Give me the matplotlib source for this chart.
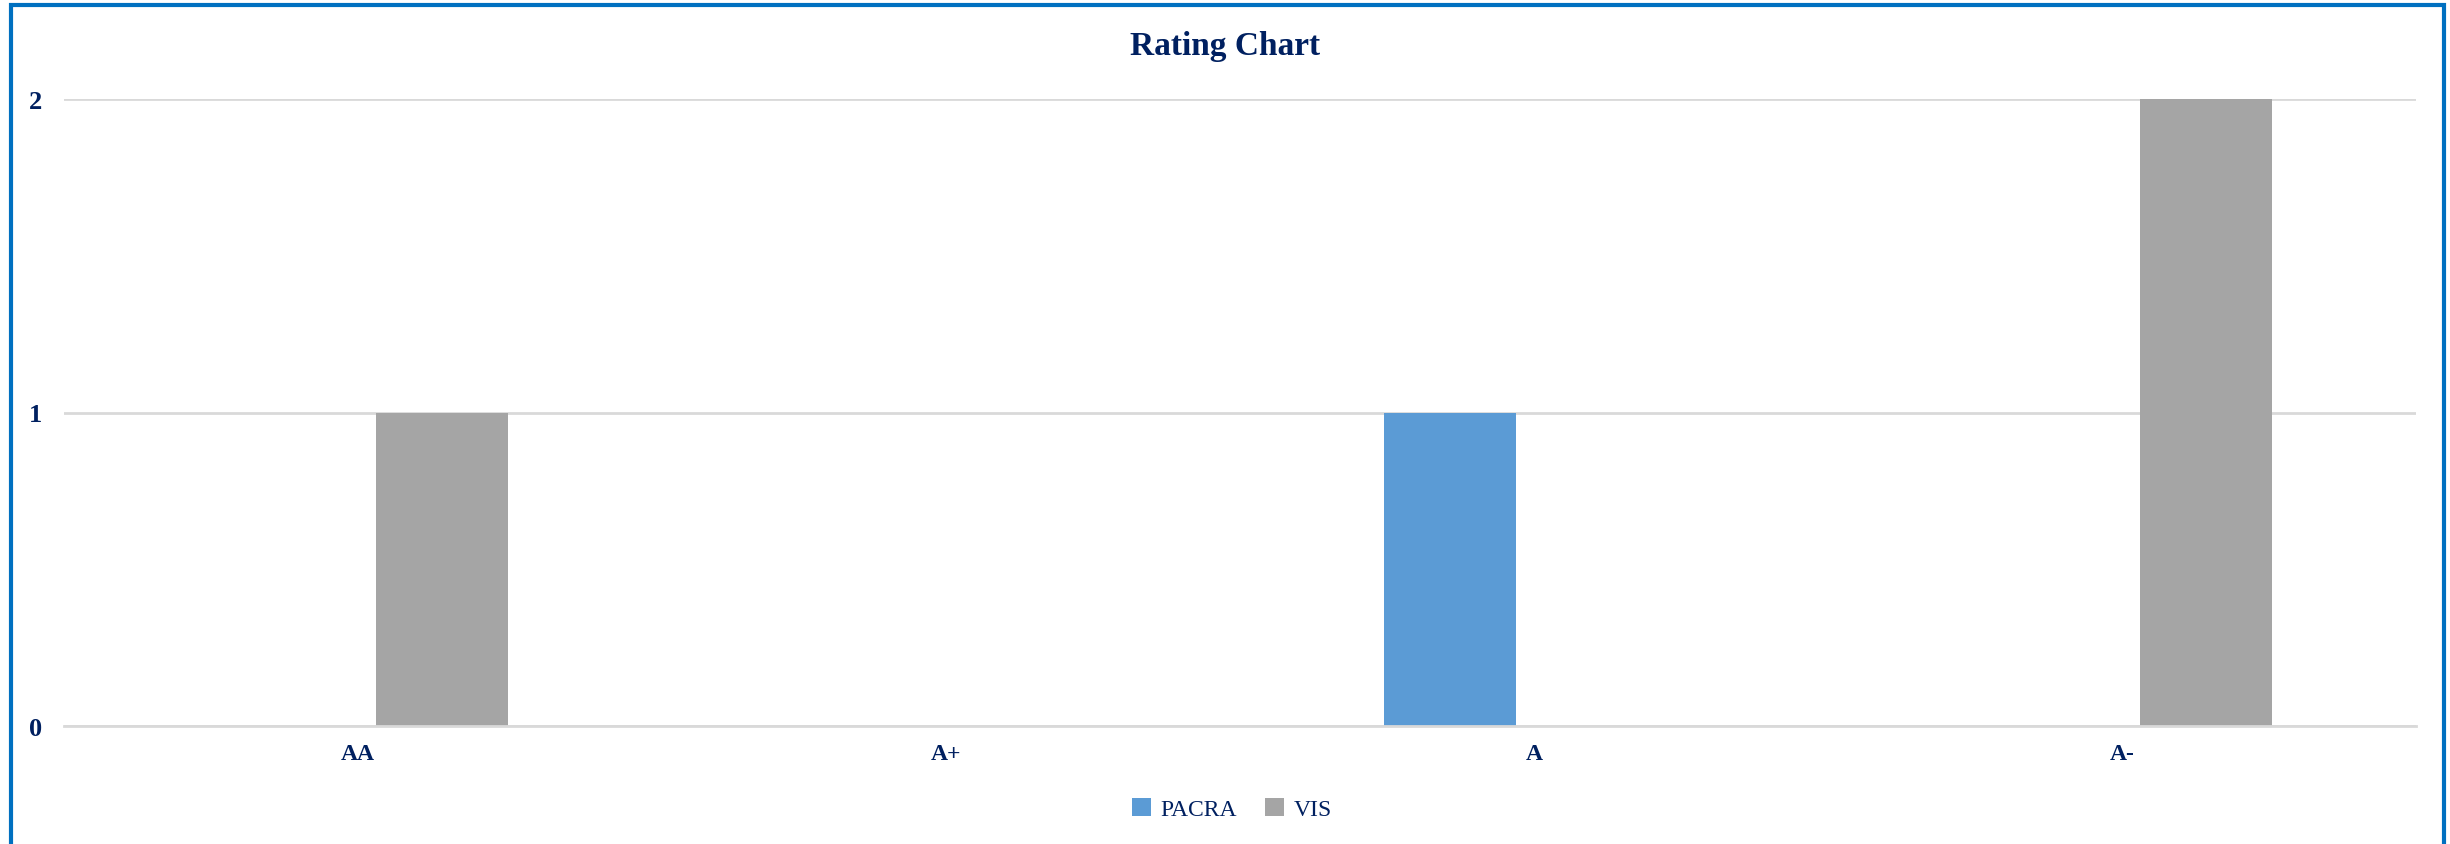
import matplotlib
matplotlib.use("Agg")
import matplotlib.pyplot as plt
import numpy as np
from matplotlib.patches import Rectangle

categories = ["AA", "A+", "A", "A-"]
series_names = ["PACRA", "VIS"]
pacra = [0, 0, 1, 0]
vis = [1, 0, 0, 2]
yticks = [0, 1, 2]

navy = "#002060"
blue = "#5B9BD5"
gray = "#A5A5A5"
grid = "#D9D9D9"
font = "Liberation Serif"

W, H, dpi = 2450, 845, 100
fig = plt.figure(figsize=(W / dpi, H / dpi), dpi=dpi)
fig.patch.set_facecolor("white")

# plot area in pixels
left, right, top, bottom = 64, 2416, 100, 727
ax = fig.add_axes([left / W, 1 - bottom / H, (right - left) / W, (bottom - top) / H])

x = np.arange(len(categories))
bw = 0.2245
off = 0.143
ax.bar(x - off, pacra, width=bw, color=blue, label=series_names[0], zorder=3)
ax.bar(x + off, vis, width=bw, color=gray, label=series_names[1], zorder=3)

ax.set_xlim(-0.5, len(categories) - 0.5)
ax.set_ylim(0, 2)
ax.set_yticks(yticks)
ax.set_yticklabels([str(v) for v in yticks])
ax.set_xticks(x)
ax.set_xticklabels(categories)
ax.yaxis.grid(True, color=grid, linewidth=2, zorder=0)
ax.set_axisbelow(True)
for s in ["left", "right", "top"]:
    ax.spines[s].set_visible(False)
ax.spines["bottom"].set_color(grid)
ax.spines["bottom"].set_linewidth(2)
ax.spines["bottom"].set_zorder(4)
ax.tick_params(axis="both", length=0)
ax.tick_params(axis="y", pad=16)
ax.tick_params(axis="x", pad=12)
for lab in ax.get_yticklabels():
    lab.set_fontfamily(font)
    lab.set_fontweight("bold")
    lab.set_color(navy)
    lab.set_fontsize(19)
for lab in ax.get_xticklabels():
    lab.set_fontfamily(font)
    lab.set_fontweight("bold")
    lab.set_color(navy)
    lab.set_fontsize(17)

fig.text(0.5, 1 - 47 / H, "Rating Chart", ha="center", va="center",
         fontfamily=font, fontweight="bold", fontsize=24, color=navy)

leg = fig.legend(loc="center", bbox_to_anchor=(1232 / W, 1 - 810 / H), ncol=2,
                 frameon=False, prop={"family": font, "size": 17},
                 handlelength=0.8, handleheight=0.8, handletextpad=0.4,
                 columnspacing=1.2)
for t in leg.get_texts():
    t.set_color(navy)

fig.patches.append(Rectangle((11 / W, -0.01), (2444 - 11) / W, 1 - 6 / H + 0.01,
                             transform=fig.transFigure, fill=False,
                             edgecolor="#0070C0", linewidth=3, zorder=10))

fig.savefig("out.png", dpi=dpi, facecolor="white")
